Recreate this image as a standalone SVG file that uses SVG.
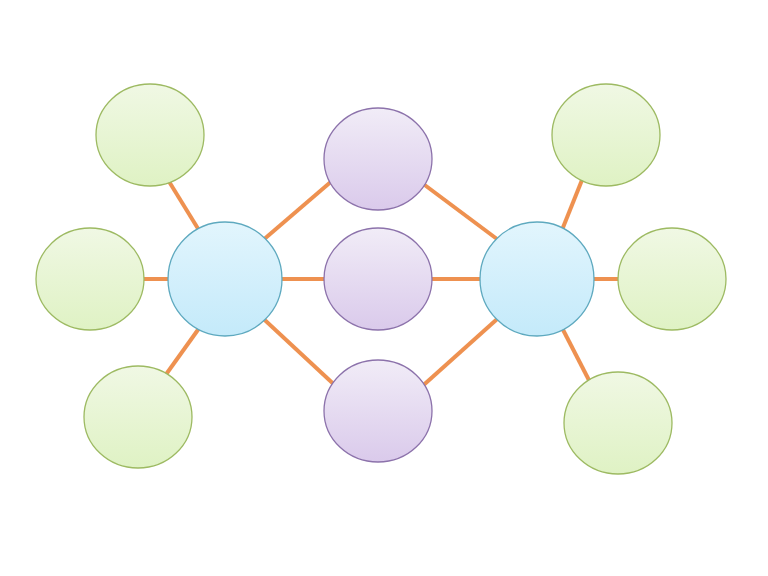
<svg xmlns="http://www.w3.org/2000/svg" width="768" height="576" viewBox="0 0 768 576">
  <defs>
    <linearGradient id="gGreen" x1="0" y1="0" x2="0" y2="1">
      <stop offset="0" stop-color="#F0F8E4"/>
      <stop offset="1" stop-color="#DFF2C4"/>
    </linearGradient>
    <linearGradient id="gBlue" x1="0" y1="0" x2="0" y2="1">
      <stop offset="0" stop-color="#E2F5FD"/>
      <stop offset="1" stop-color="#C4EAFA"/>
    </linearGradient>
    <linearGradient id="gPurple" x1="0" y1="0" x2="0" y2="1">
      <stop offset="0" stop-color="#F1ECF7"/>
      <stop offset="1" stop-color="#DACAEB"/>
    </linearGradient>
    <style>
      .link { stroke: #EE9150; stroke-width: 4; fill: none; }
      .green { fill: url(#gGreen); stroke: #9DBA62; stroke-width: 1.3; }
      .blue { fill: url(#gBlue); stroke: #5EA9BF; stroke-width: 1.3; }
      .purple { fill: url(#gPurple); stroke: #8C72AB; stroke-width: 1.3; }
    </style>
  </defs>
  <rect width="768" height="576" fill="#FFFFFF"/>
  <g id="connectors">
    <line class="link" x1="165" y1="175" x2="205" y2="240"/>
    <line class="link" x1="140" y1="279" x2="175" y2="279"/>
    <line class="link" x1="162" y1="380" x2="205" y2="320"/>
    <line class="link" x1="255" y1="247" x2="340" y2="174"/>
    <line class="link" x1="275" y1="279" x2="330" y2="279"/>
    <line class="link" x1="255" y1="311" x2="340" y2="390"/>
    <line class="link" x1="418" y1="180" x2="505" y2="245"/>
    <line class="link" x1="425" y1="279" x2="485" y2="279"/>
    <line class="link" x1="418" y1="390" x2="505" y2="312"/>
    <line class="link" x1="586" y1="170" x2="558" y2="240"/>
    <line class="link" x1="590" y1="279" x2="625" y2="279"/>
    <line class="link" x1="558" y1="320" x2="593" y2="388"/>
  </g>
  <g id="node-green-tl"><ellipse class="green" cx="150" cy="135" rx="54" ry="51"/></g>
  <g id="node-green-l"><ellipse class="green" cx="90" cy="279" rx="54" ry="51"/></g>
  <g id="node-green-bl"><ellipse class="green" cx="138" cy="417" rx="54" ry="51"/></g>
  <g id="node-green-tr"><ellipse class="green" cx="606" cy="135" rx="54" ry="51"/></g>
  <g id="node-green-r"><ellipse class="green" cx="672" cy="279" rx="54" ry="51"/></g>
  <g id="node-green-br"><ellipse class="green" cx="618" cy="423" rx="54" ry="51"/></g>
  <g id="node-blue-l"><circle class="blue" cx="225" cy="279" r="57"/></g>
  <g id="node-blue-r"><circle class="blue" cx="537" cy="279" r="57"/></g>
  <g id="node-purple-t"><ellipse class="purple" cx="378" cy="159" rx="54" ry="51"/></g>
  <g id="node-purple-m"><ellipse class="purple" cx="378" cy="279" rx="54" ry="51"/></g>
  <g id="node-purple-b"><ellipse class="purple" cx="378" cy="411" rx="54" ry="51"/></g>
</svg>
